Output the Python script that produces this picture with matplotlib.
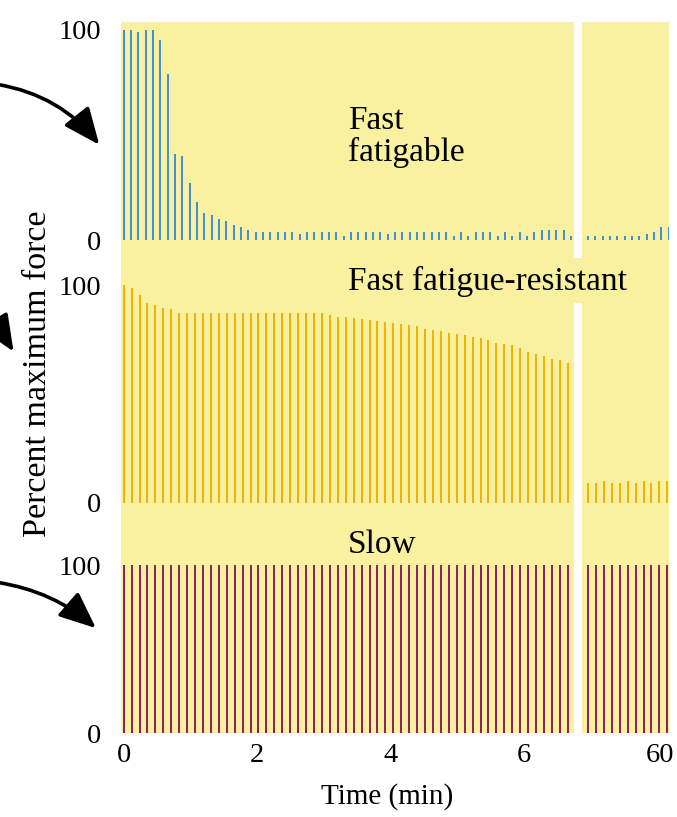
import numpy as np
import matplotlib.pyplot as plt
from matplotlib.patches import Rectangle, FancyArrowPatch

# --- data ---
# fast fatigable (top), one twitch every ~0.11 min
fast_step = 0.11
fast_left = [100, 100, 99, 100, 100, 95, 79, 41, 40, 27, 18, 13, 12, 10, 9, 7, 6, 5, 4, 4,
             4, 4, 4, 4, 3, 4, 4, 4, 4, 4, 2, 4, 4, 4, 4, 4, 3, 4, 4, 4, 4,
             4, 4, 4, 4, 2, 4, 2, 4, 4, 4, 2, 4, 2, 4, 2, 4, 5, 5, 5, 5, 2]
fast_right = [2, 2, 2, 2, 2, 2, 2, 2, 3, 4, 6, 6]

# fast fatigue-resistant (middle)
res_step = 0.119
res_left = [100, 98.5, 95.4, 91.9, 90.8, 89.6, 88.9, 87.3,
            87.3, 87.3, 87.3, 87.3, 87.3, 87.3, 87.3, 87.3, 87.3, 87.3, 87.3, 87.3,
            87.3, 87.3, 87.3, 87.3, 87.3, 87.3,
            86.3, 85.5, 85.5, 85.0,
            84.5, 84, 83.5, 83, 82.5, 82, 81.5, 81, 80, 79.5, 79, 78, 77.5, 77, 76, 75.5,
            74.8, 73.4, 73, 72.5, 71, 69.3, 68.3, 67.4, 66, 65.6, 64]
res_right = [9, 9, 10, 9, 9, 10, 9, 10, 9, 10, 10]

# slow (bottom)
slow_left = [100] * 57
slow_right = [100] * 11

right_start = 58.92
xticks_left = [0, 2, 4, 6]
xticks_right = [60]

W, H = 677, 817
fig = plt.figure(figsize=(W / 100, H / 100), dpi=100)
plt.rcParams['font.family'] = ['Liberation Serif', 'DejaVu Serif']


def fx(px):
    return px / W


def fy(py):
    return 1 - py / H


def box(x0, y0, x1, y1):
    # pixel box (top-left origin) -> figure fraction rect
    return [fx(x0), fy(y1), fx(x1) - fx(x0), fy(y0) - fy(y1)]


yellow = '#f9f19f'
for (x0, y0, x1, y1) in [(121, 22, 573.5, 733), (582, 22, 669, 733), (573, 258, 583, 303)]:
    fig.add_artist(Rectangle((fx(x0), fy(y1)), fx(x1) - fx(x0), fy(y0) - fy(y1),
                             transform=fig.transFigure, facecolor=yellow,
                             edgecolor='none', zorder=0))

rows = [
    # (y0, y1, ylim, left, right, step, color)
    (22, 245, (-2.38, 103.8), fast_left, fast_right, fast_step, '#3d8fd2'),
    (280, 506, (-1.38, 102.3), res_left, res_right, res_step, '#f0b400'),
    (560, 735, (-1.19, 103), slow_left, slow_right, res_step, '#8c1e5c'),
]

xl_left = (-0.04, 6.75)
xl_right = (58.83, 60.135)

for i, (y0, y1, ylim, left, right, step, col) in enumerate(rows):
    axl = fig.add_axes(box(121, y0, 573.5, y1))
    axr = fig.add_axes(box(582, y0, 669, y1))
    tl = np.arange(len(left)) * step
    tr = right_start + np.arange(len(right)) * step
    axl.vlines(tl, 0, left, color=col, lw=1.4)
    axr.vlines(tr, 0, right, color=col, lw=1.4)
    for ax, xl in [(axl, xl_left), (axr, xl_right)]:
        ax.set_xlim(*xl)
        ax.set_ylim(*ylim)
        ax.patch.set_visible(False)
        for s in ax.spines.values():
            s.set_visible(False)
        ax.tick_params(length=0, labelsize=20.5)
    axl.set_yticks([0, 100])
    axl.tick_params(axis='y', pad=14)
    axr.set_yticks([])
    if i == 2:
        axl.set_xticks(xticks_left)
        axr.set_xticks(xticks_right)
        axl.tick_params(axis='x', pad=6)
        axr.tick_params(axis='x', pad=6)
    else:
        axl.set_xticks([])
        axr.set_xticks([])

# labels
fig.text(fx(387), fy(797), 'Time (min)', fontsize=21, ha='center', va='center')
fig.text(fx(38), fy(374), 'Percent maximum force', fontsize=24.5, rotation=90,
         ha='center', va='center')
fig.text(fx(348), fy(137), 'Fast\nfatigable', fontsize=24, ha='left', va='center',
         linespacing=1.05)
fig.text(fx(348), fy(281), 'Fast fatigue-resistant', fontsize=24, ha='left', va='center')
fig.text(fx(348), fy(545), 'Slow', fontsize=24, ha='left', va='center')

# curved arrows coming in from the left margin
for (p0, p1, rad) in [((-5, 84), (101, 147), -0.2),
                      ((-8, 328), (15, 354), -0.1),
                      ((-5, 582), (98, 630), -0.15)]:
    a = FancyArrowPatch((fx(p0[0]), fy(p0[1])), (fx(p1[0]), fy(p1[1])),
                        transform=fig.transFigure,
                        arrowstyle='-|>,head_length=0.7,head_width=0.3',
                        connectionstyle='arc3,rad=%s' % rad,
                        mutation_scale=32, lw=2.6, color='black')
    fig.add_artist(a)

fig.savefig('out.png', dpi=100, facecolor='white')
